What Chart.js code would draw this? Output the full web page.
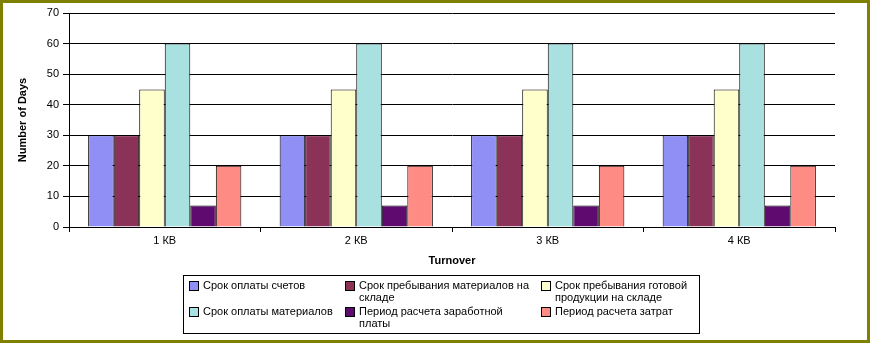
<!DOCTYPE html>
<html>
<head>
<meta charset="utf-8">
<script src="https://cdn.jsdelivr.net/npm/chart.js@4"></script>
<style>
  body { margin: 0; background: #fff; }
  #frame { position: relative; width: 870px; height: 343px; box-sizing: border-box; border: 3px solid #808000; background: #fff; overflow: hidden; }
  #chart { position: absolute; left: -3px; top: -3px; }
  #legend { position: absolute; left: 180px; top: 272px; width: 517px; height: 59px; border: 1px solid #000; box-sizing: border-box;
            font: 11px "Liberation Sans", Arial, sans-serif; color: #000; }
  .item { position: absolute; padding-left: 16px; line-height: 12px; }
  .sw { position: absolute; left: 2px; top: 2px; width: 8px; height: 8px; border: 1px solid #000; }
</style>
</head>
<body>
<div id="frame">
  <canvas id="chart" width="870" height="343"></canvas>
  <div id="legend"></div>
</div>
<script>
// Chart data
const quarters = ['1 КВ', '2 КВ', '3 КВ', '4 КВ'];
const seriesNames = [
    'Срок оплаты счетов',
    'Срок пребывания материалов на складе',
    'Срок пребывания готовой продукции на складе',
    'Срок оплаты материалов',
    'Период расчета заработной платы',
    'Период расчета затрат'
];
const invoicePay = [30, 30, 30, 30];
const materialsStock = [30, 30, 30, 30];
const goodsStock = [45, 45, 45, 45];
const materialsPay = [60, 60, 60, 60];
const payrollPeriod = [7, 7, 7, 7];
const costPeriod = [20, 20, 20, 20];
const yTicks = [0, 10, 20, 30, 40, 50, 60, 70];

const seriesValues = [invoicePay, materialsStock, goodsStock, materialsPay, payrollPeriod, costPeriod];
const colors = ['#8f8ff6', '#8a3258', '#ffffcc', '#a9e0e0', '#5e0a6e', '#ff8c84'];

const font = { family: '"Liberation Sans", Arial, sans-serif', size: 11 };

new Chart(document.getElementById('chart'), {
    type: 'bar',
    data: {
        labels: quarters,
        datasets: seriesValues.map((vals, i) => ({
            label: seriesNames[i],
            data: vals,
            backgroundColor: colors[i],
            borderColor: '#000',
            borderWidth: 1,
            categoryPercentage: 0.8,
            barPercentage: 1
        }))
    },
    options: {
        responsive: false,
        animation: false,
        layout: { padding: { left: 16, right: 35, top: 13, bottom: 75 } },
        plugins: { legend: { display: false }, tooltip: { enabled: false } },
        scales: {
            x: {
                grid: { offset: true, drawOnChartArea: false, drawTicks: true, tickLength: 5, color: '#000' },
                border: { color: '#000' },
                ticks: { color: '#000', font: font, padding: 2 },
                title: { display: true, text: 'Turnover', color: '#000', font: { family: font.family, size: 11, weight: 'bold' }, padding: { top: 8, bottom: 0 } },
                afterFit: s => { s.height = 343 - 227 - 75; }
            },
            y: {
                min: 0, max: 70,
                afterBuildTicks: s => { s.ticks = yTicks.map(v => ({ value: v })); },
                grid: { color: '#000', tickLength: 6 },
                border: { color: '#000' },
                ticks: { color: '#000', font: font, padding: 4 },
                title: { display: true, text: 'Number of Days', color: '#000', font: { family: font.family, size: 11, weight: 'bold' }, padding: 0 },
                afterFit: s => { s.width = 53; }
            }
        }
    }
});

// HTML legend, 3 columns x 2 rows
const legend = document.getElementById('legend');
const colX = [3, 159, 355];
const colW = [150, 186, 160];
const rowY = [3, 29];
seriesNames.forEach((name, i) => {
    const d = document.createElement('div');
    d.className = 'item';
    d.style.left = colX[i % 3] + 'px';
    d.style.top = rowY[Math.floor(i / 3)] + 'px';
    d.style.width = (colW[i % 3] - 16) + 'px';
    d.innerHTML = '<span class="sw" style="background:' + colors[i] + '"></span>' + name;
    legend.appendChild(d);
});
</script>
</body>
</html>
